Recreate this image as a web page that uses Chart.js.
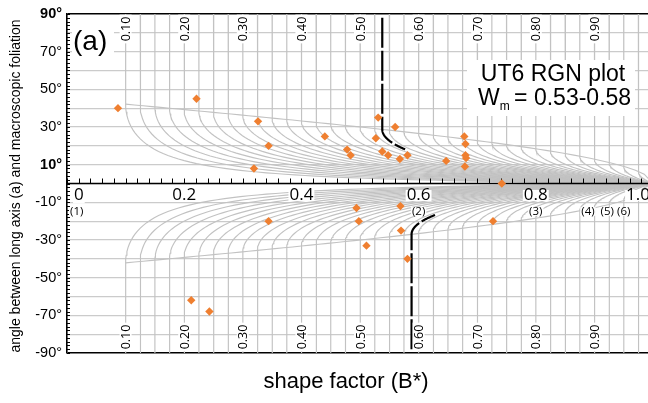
<!DOCTYPE html>
<html>
<head>
<meta charset="utf-8">
<script src="https://cdn.jsdelivr.net/npm/chart.js@4.4.0/dist/chart.umd.min.js"></script>
<style>
  html, body { margin: 0; padding: 0; background: #fff; overflow: hidden; }
  #wrap { width: 648px; height: 403px; overflow: hidden; }
</style>
</head>
<body>
<div id="wrap"><canvas id="rgn" width="660" height="403"></canvas></div>
<script>
// Wm values of the grey net curves (one vertical line every 0.025)
const netWm = [0.100, 0.125, 0.150, 0.175, 0.200, 0.225, 0.250, 0.275, 0.300, 0.325,
               0.350, 0.375, 0.400, 0.425, 0.450, 0.475, 0.500, 0.525, 0.550, 0.575,
               0.600, 0.625, 0.650, 0.675, 0.700, 0.725, 0.750, 0.775, 0.800, 0.825,
               0.850, 0.875, 0.900, 0.925, 0.950, 0.975];
// Labelled net lines (top and bottom)
const netLabelPos = [0.1, 0.2, 0.3, 0.4, 0.5, 0.6, 0.7, 0.8, 0.9];
const netLabels = ['0.10', '0.20', '0.30', '0.40', '0.50', '0.60', '0.70', '0.80', '0.90'];

// x axis ticks (drawn along the 0 degree line)
const xTickPos = [0, 0.2, 0.4, 0.6, 0.8, 1.0];
const xTickLabels = ['0', '0.2', '0.4', '0.6', '0.8', '1.0'];
const classPos = [0.0, 0.6, 0.8, 0.889, 0.922, 0.95];
const classLabels = ['(1)', '(2)', '(3)', '(4)', '(5)', '(6)'];

// Measured grains: shape factor B* and angle (deg)
const grainB = [0.087, 0.221, 0.326, 0.344, 0.319, 0.440, 0.531, 0.560, 0.527, 0.478,
                0.484, 0.538, 0.548, 0.568, 0.581, 0.647, 0.678, 0.680, 0.680, 0.681,
                0.679, 0.742,
                0.344, 0.212, 0.243, 0.494, 0.569, 0.498, 0.570, 0.511, 0.581, 0.727];
const grainAngle = [40, 45, 33, 20, 8, 25, 35, 30, 24, 18,
                    15, 17, 15, 13, 15, 12, 25, 21, 15, 13.5,
                    9, 0,
                    -20, -62, -68, -13, -12, -20, -25, -33, -40, -20];

// Wm bounds (dashed black curves): start angle, Wm, end of curve B*
const wmLow = { wm: 0.538, start: 88, end: 0.577 };
const wmHigh = { wm: 0.588, start: -88, end: 0.628 };

const GREY = '#c2c2c2';
const ORANGE = '#ef7f30';
const FONT = "'Liberation Sans', Arial, sans-serif";
const SMALL = "'Open Sans', 'Liberation Sans', sans-serif";

// net curve: vertical from the border, then the stable orientation branch to (1, 0)
function netBranch(wm, sign, startAngle, endB) {
    const a = Math.acos(wm);
    const pts = [{ x: wm, y: startAngle !== undefined ? startAngle : sign * 90 }];
    const last = endB !== undefined ? endB : 1;
    for (let i = 0; i <= 60; i++) {
        const t = i / 60;
        const b = wm + (last - wm) * t * t;
        const th = (a - Math.acos(Math.min(1, wm / b))) / 2 * 180 / Math.PI;
        pts.push({ x: b, y: sign * th });
    }
    return pts;
}

function envelope(sign) {
    const pts = [];
    for (let i = 0; i <= 60; i++) {
        const b = 0.1 + 0.9 * i / 60;
        pts.push({ x: b, y: sign * Math.acos(b) / 2 * 180 / Math.PI });
    }
    return pts;
}

const datasets = [];
datasets.push({
    label: 'grains',
    data: grainB.map((b, i) => ({ x: b, y: grainAngle[i] })),
    pointStyle: 'rectRot',
    pointRadius: 4.2,
    backgroundColor: ORANGE,
    borderColor: ORANGE,
    borderWidth: 0,
    showLine: false,
    order: 0
});
[wmLow, wmHigh].forEach(d => {
    datasets.push({
        label: 'wm',
        data: netBranch(d.wm, Math.sign(d.start), d.start, d.end),
        showLine: true,
        borderColor: '#000',
        borderWidth: 2.2,
        borderDash: [30, 3],
        pointRadius: 0,
        order: 1
    });
});
[1, -1].forEach(sign => {
    datasets.push({
        label: 'env',
        data: envelope(sign),
        showLine: true,
        borderColor: GREY,
        borderWidth: 1.1,
        pointRadius: 0,
        order: 2
    });
    netWm.forEach(wm => {
        datasets.push({
            label: 'net',
            data: netBranch(wm, sign),
            showLine: true,
            borderColor: GREY,
            borderWidth: 1.15,
            pointRadius: 0,
            order: 3
        });
    });
});

function textBox(ctx, text, x, y, align, pad) {
    const w = ctx.measureText(text).width;
    const m = ctx.measureText('0');
    const h = (m.actualBoundingBoxAscent || 8) + 2;
    let left = x;
    if (align === 'center') left = x - w / 2;
    if (align === 'right') left = x - w;
    ctx.fillStyle = '#fff';
    ctx.fillRect(left - pad, y - h / 2 - pad, w + 2 * pad, h + 2 * pad);
    ctx.fillStyle = '#000';
    ctx.textAlign = align;
    ctx.textBaseline = 'middle';
    ctx.fillText(text, x, y);
}

const overlay = {
    id: 'overlay',
    beforeDatasetDraw(chart, args) {
        // draw labels once the grey net is done, under the black lines and points
        if (args.index !== 1) return;
        const ctx = chart.ctx;
        const xs = chart.scales.x, ys = chart.scales.y;
        const area = chart.chartArea;
        ctx.save();

        // rotated net labels, top and bottom
        ctx.font = '12.5px ' + SMALL;
        netLabelPos.forEach((b, i) => {
            const px = xs.getPixelForValue(b);
            [29, 337].forEach(py => {
                ctx.save();
                ctx.translate(px, py);
                ctx.rotate(-Math.PI / 2);
                const w = ctx.measureText(netLabels[i]).width;
                ctx.fillStyle = '#fff';
                ctx.fillRect(-w / 2 - 2, -6, w + 4, 12);
                ctx.fillStyle = '#000';
                ctx.textAlign = 'center';
                ctx.textBaseline = 'middle';
                ctx.fillText(netLabels[i], 0, 1);
                ctx.restore();
            });
        });

        // zero line acting as the x axis
        const y0 = ys.getPixelForValue(0);
        ctx.strokeStyle = '#000';
        ctx.lineWidth = 1.6;
        ctx.beginPath();
        ctx.moveTo(area.left, y0);
        ctx.lineTo(area.right, y0);
        ctx.stroke();
        ctx.lineWidth = 1;
        for (let i = 0; i <= 50; i++) {
            const px = Math.round(xs.getPixelForValue(i * 0.02)) + 0.5;
            ctx.beginPath();
            ctx.moveTo(px, y0);
            ctx.lineTo(px, y0 - 5);
            ctx.stroke();
        }
        // minor ticks on the left axis
        for (let v = -90; v <= 90; v += 2) {
            const py = Math.round(ys.getPixelForValue(v)) + 0.5;
            ctx.beginPath();
            ctx.moveTo(area.left, py);
            ctx.lineTo(area.left + 3, py);
            ctx.stroke();
        }

        ctx.font = '17px ' + SMALL;
        xTickPos.forEach((b, i) => {
            const px = xs.getPixelForValue(b);
            let align = 'center', x = px;
            if (b === 0) { align = 'left'; x = px + 7; }
            if (b === 1) { align = 'right'; x = 650; }
            textBox(ctx, xTickLabels[i], x, y0 + 12, align, 1);
        });
        ctx.font = '11.5px ' + SMALL;
        classPos.forEach((b, i) => {
            const px = xs.getPixelForValue(b);
            const align = b === 0 ? 'left' : 'center';
            textBox(ctx, classLabels[i], b === 0 ? px + 3 : px, y0 + 28, align, 1);
        });

        // panel letter
        ctx.font = '28px ' + FONT;
        ctx.fillStyle = '#fff';
        ctx.fillRect(72, 25, 42, 32);
        ctx.fillStyle = '#000';
        ctx.textAlign = 'left';
        ctx.textBaseline = 'middle';
        ctx.fillText('(a)', 73, 42);

        // text box
        ctx.fillStyle = '#fff';
        ctx.fillRect(467, 60, 168, 56);
        ctx.fillStyle = '#000';
        ctx.font = '23px ' + FONT;
        ctx.textAlign = 'center';
        ctx.fillText('UT6 RGN plot', 553, 75);
        ctx.textAlign = 'left';
        let x = 478;
        ctx.fillText('W', x, 99);
        x += ctx.measureText('W').width;
        ctx.font = '12px ' + FONT;
        ctx.fillText('m', x, 107);
        x += ctx.measureText('m').width + 2;
        ctx.font = '23px ' + FONT;
        ctx.fillText(' = 0.53-0.58', x - 4, 99);

        ctx.restore();
    },
    afterDraw(chart) {
        const ctx = chart.ctx;
        ctx.save();
        ctx.fillStyle = '#000';
        ctx.textAlign = 'center';
        ctx.textBaseline = 'middle';
        ctx.font = '22px ' + FONT;
        ctx.fillText('shape factor (B*)', 346, 382);
        ctx.translate(16, 186);
        ctx.rotate(-Math.PI / 2);
        ctx.font = '14px ' + FONT;
        ctx.fillText('angle between long axis (a) and macroscopic foliation', 0, 0);
        ctx.restore();
    }
};

new Chart(document.getElementById('rgn'), {
    type: 'scatter',
    data: { datasets: datasets },
    options: {
        responsive: false,
        animation: false,
        devicePixelRatio: 1,
        layout: { padding: { top: 14, bottom: 50, right: 7, left: 0 } },
        plugins: { legend: { display: false }, tooltip: { enabled: false } },
        scales: {
            x: { type: 'linear', min: 0, max: 1, display: false },
            y: {
                min: -90, max: 90,
                afterFit: s => { s.width = 67; },
                border: { color: '#000', width: 1.6 },
                grid: {
                    drawTicks: false,
                    color: c => (Math.abs(c.tick.value) === 90 ? '#000' : '#cbcbcb'),
                    lineWidth: c => (Math.abs(c.tick.value) === 90 ? 1.6 : 1.3)
                },
                ticks: {
                    stepSize: 10,
                    padding: 5,
                    color: '#000',
                    autoSkip: false,
                    font: c => ({
                        family: FONT, size: 14.5,
                        weight: (c.tick && (c.tick.value === 10 || c.tick.value === 90)) ? 'bold' : 'normal'
                    }),
                    callback: v => (Math.abs(v) % 20 === 10 ? v + '°' : '')
                }
            }
        }
    },
    plugins: [overlay]
});
</script>
</body>
</html>
